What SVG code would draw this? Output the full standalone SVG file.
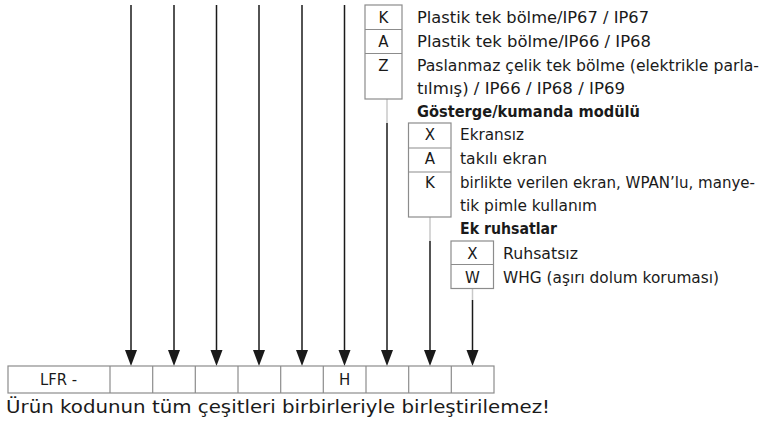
<svg xmlns="http://www.w3.org/2000/svg" width="762" height="428" viewBox="0 0 762 428">
<defs>
<style>
text{font-family:"DejaVu Sans","Liberation Sans",Arial,sans-serif;font-size:15px;fill:#1a1a1a}
.b{font-weight:bold}
.c{text-anchor:middle}
.box{fill:#fff;stroke:#8c8c8c;stroke-width:1.2}
.ln{stroke:#1a1a1a;stroke-width:1.5;fill:none}
.gl{stroke:#c8c8c8;stroke-width:1.5;fill:none}
.ah{fill:#1a1a1a}
</style>
</defs>
<g id="connectors">
<line class="ln" x1="131" y1="5" x2="131" y2="351"/><path class="ah" d="M125,350 L137,350 L131,366 Z"/>
<line class="ln" x1="174" y1="5" x2="174" y2="351"/><path class="ah" d="M168,350 L180,350 L174,366 Z"/>
<line class="ln" x1="216.5" y1="5" x2="216.5" y2="351"/><path class="ah" d="M210.5,350 L222.5,350 L216.5,366 Z"/>
<line class="ln" x1="259" y1="5" x2="259" y2="351"/><path class="ah" d="M253,350 L265,350 L259,366 Z"/>
<line class="ln" x1="302" y1="5" x2="302" y2="351"/><path class="ah" d="M296,350 L308,350 L302,366 Z"/>
<line class="ln" x1="344.5" y1="5" x2="344.5" y2="351"/><path class="ah" d="M338.5,350 L350.5,350 L344.5,366 Z"/>
<line class="gl" x1="387" y1="99" x2="387" y2="123"/>
<line class="ln" x1="387" y1="123" x2="387" y2="351"/><path class="ah" d="M381,350 L393,350 L387,366 Z"/>
<line class="gl" x1="430" y1="217" x2="430" y2="241"/>
<line class="ln" x1="430" y1="241" x2="430" y2="351"/><path class="ah" d="M424,350 L436,350 L430,366 Z"/>
<line class="gl" x1="472.5" y1="289" x2="472.5" y2="300"/>
<line class="ln" x1="472.5" y1="300" x2="472.5" y2="351"/><path class="ah" d="M466.5,350 L478.5,350 L472.5,366 Z"/>
</g>
<g id="housing">
<rect class="box" x="365" y="5" width="37" height="94"/>
<line class="box" x1="365" y1="29.5" x2="402" y2="29.5"/>
<line class="box" x1="365" y1="53.5" x2="402" y2="53.5"/>
<text class="c" x="383.5" y="23">K</text>
<text class="c" x="383.5" y="47">A</text>
<text class="c" x="383.5" y="71">Z</text>
<text x="417" y="23" textLength="232" lengthAdjust="spacingAndGlyphs">Plastik tek bölme/IP67 / IP67</text>
<text x="417" y="47" textLength="234" lengthAdjust="spacingAndGlyphs">Plastik tek bölme/IP66 / IP68</text>
<text x="417" y="71" textLength="342" lengthAdjust="spacingAndGlyphs">Paslanmaz çelik tek bölme (elektrikle parla-</text>
<text x="417" y="94" textLength="208" lengthAdjust="spacingAndGlyphs">tılmış) / IP66 / IP68 / IP69</text>
<text class="b" x="417" y="117" textLength="223" lengthAdjust="spacingAndGlyphs">Gösterge/kumanda modülü</text>
</g>
<g id="display">
<rect class="box" x="408.5" y="123" width="42.5" height="94"/>
<line class="box" x1="408.5" y1="148" x2="451" y2="148"/>
<line class="box" x1="408.5" y1="172" x2="451" y2="172"/>
<text class="c" x="430" y="140">X</text>
<text class="c" x="430" y="164">A</text>
<text class="c" x="430" y="188">K</text>
<text x="460" y="140" textLength="64" lengthAdjust="spacingAndGlyphs">Ekransız</text>
<text x="460" y="164" textLength="87" lengthAdjust="spacingAndGlyphs">takılı ekran</text>
<text x="460" y="188" textLength="295" lengthAdjust="spacingAndGlyphs">birlikte verilen ekran, WPAN’lu, manye-</text>
<text x="460" y="211" textLength="137" lengthAdjust="spacingAndGlyphs">tik pimle kullanım</text>
<text class="b" x="460" y="234" textLength="97" lengthAdjust="spacingAndGlyphs">Ek ruhsatlar</text>
</g>
<g id="approvals">
<rect class="box" x="451" y="241" width="42.5" height="47.5"/>
<line class="box" x1="451" y1="264.5" x2="493.5" y2="264.5"/>
<text class="c" x="472.5" y="258.5">X</text>
<text class="c" x="472.5" y="282.5">W</text>
<text x="503" y="258.5" textLength="75" lengthAdjust="spacingAndGlyphs">Ruhsatsız</text>
<text x="503" y="282.5" textLength="216" lengthAdjust="spacingAndGlyphs">WHG (aşırı dolum koruması)</text>
</g>
<g id="code">
<rect class="box" x="8" y="366" width="486" height="27"/>
<line class="box" x1="110" y1="366" x2="110" y2="393"/>
<line class="box" x1="152.7" y1="366" x2="152.7" y2="393"/>
<line class="box" x1="195.3" y1="366" x2="195.3" y2="393"/>
<line class="box" x1="238" y1="366" x2="238" y2="393"/>
<line class="box" x1="280.7" y1="366" x2="280.7" y2="393"/>
<line class="box" x1="323.3" y1="366" x2="323.3" y2="393"/>
<line class="box" x1="366" y1="366" x2="366" y2="393"/>
<line class="box" x1="408.7" y1="366" x2="408.7" y2="393"/>
<line class="box" x1="451.3" y1="366" x2="451.3" y2="393"/>
<text class="c" x="58.5" y="385" textLength="37" lengthAdjust="spacingAndGlyphs">LFR -</text>
<text class="c" x="344.7" y="385">H</text>
</g>
<text id="note" x="6" y="413" style="font-size:18.5px" textLength="544" lengthAdjust="spacingAndGlyphs">Ürün kodunun tüm çeşitleri birbirleriyle birleştirilemez!</text>
</svg>
